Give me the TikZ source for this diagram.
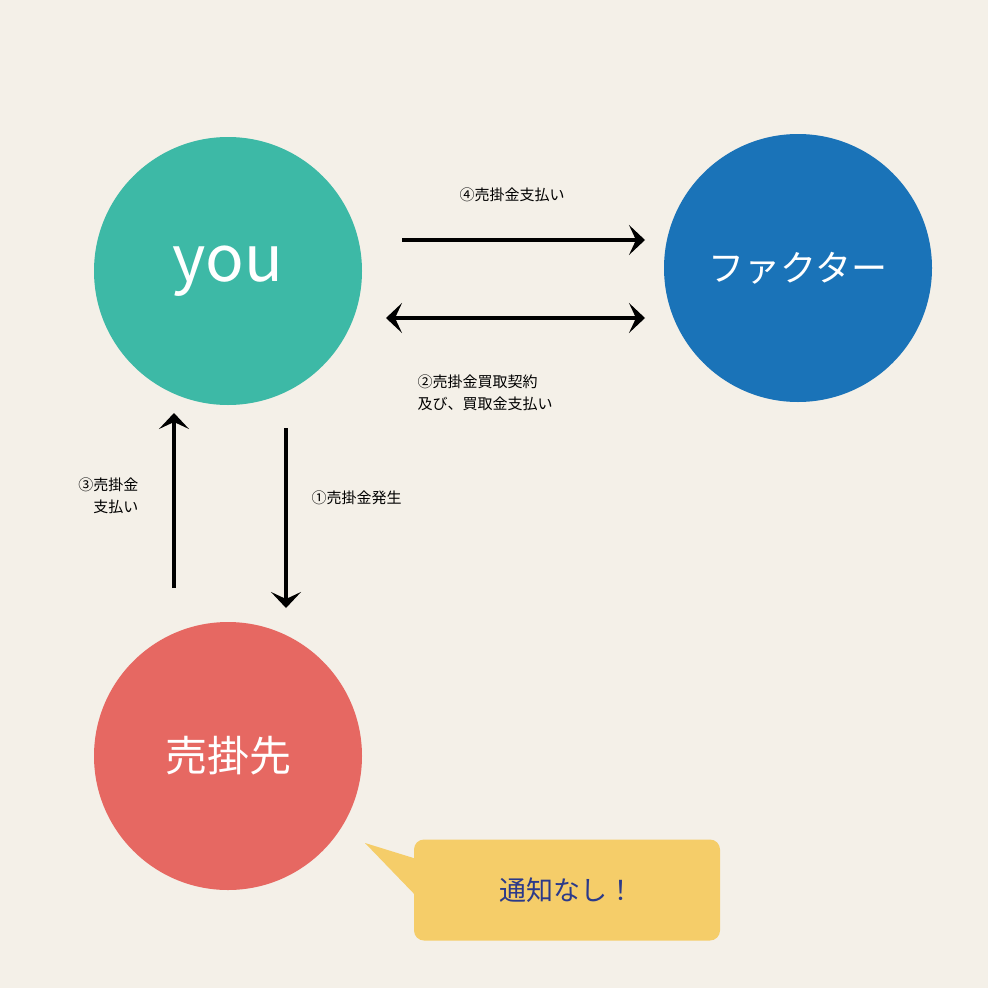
\documentclass[tikz,border=0pt]{standalone}
\usepackage{fontspec}
\setmainfont{Noto Sans CJK JP}
\usetikzlibrary{arrows.meta}
\definecolor{bg}{HTML}{F4F0E8}
\definecolor{cteal}{HTML}{3DB9A6}
\definecolor{cblue}{HTML}{1A73B8}
\definecolor{cred}{HTML}{E66862}
\definecolor{cyel}{HTML}{F5CD69}
\definecolor{cnavy}{HTML}{2B3A8A}
\tikzset{
 ball/.style={circle,minimum size=268pt,inner sep=0pt,text=white},
 arr/.style={line width=3.5pt,-{Stealth[length=16pt,width=30pt,inset=7pt]}},
 darr/.style={line width=3.5pt,{Stealth[length=16pt,width=30pt,inset=7pt]}-{Stealth[length=16pt,width=30pt,inset=7pt]}},
 lab/.style={font=\fontsize{15pt}{22pt}\selectfont,text=black}
}
\begin{document}
\begin{tikzpicture}[x=1pt,y=-1pt]
\fill[bg] (0,0) rectangle (988,988);
\useasboundingbox (0,0) rectangle (988,988);
\node[ball,fill=cteal,font=\fontsize{64pt}{64pt}\selectfont] (you) at (228,271) {you};
\node[ball,fill=cblue,font=\fontsize{36pt}{36pt}\selectfont] (fac) at (798,268) {ファクター};
\node[ball,fill=cred,font=\fontsize{42pt}{42pt}\selectfont] (uri) at (228,756) {売掛先};
\coordinate (a1) at (402,240); \coordinate (a2) at (645,240);
\coordinate (b1) at (386,318); \coordinate (b2) at (645,318);
\coordinate (c1) at (286,428); \coordinate (c2) at (286,608);
\coordinate (d1) at (174,588); \coordinate (d2) at (174,413);
\draw[arr] (a1) -- (a2);
\draw[darr] (b1) -- (b2);
\draw[arr] (c1) -- (c2);
\draw[arr] (d1) -- (d2);
\node[lab] (l4) at (512,195) {④売掛金支払い};
\node[lab,align=left,anchor=west] (l2) at (414,393) {②売掛金買取契約\\及び、買取金支払い};
\node[lab,anchor=west] (l1) at (308,498) {①売掛金発生};
\node[lab,align=right,anchor=east] (l3) at (142,496) {③売掛金\\支払い};
\fill[cyel] (365,843) -- (420,860) -- (420,900) -- cycle;
\node[fill=cyel,rounded corners=10pt,minimum width=306pt,minimum height=101pt,text=cnavy,font=\fontsize{27pt}{27pt}\selectfont] (note) at (567,890) {通知なし！};
\end{tikzpicture}
\end{document}
